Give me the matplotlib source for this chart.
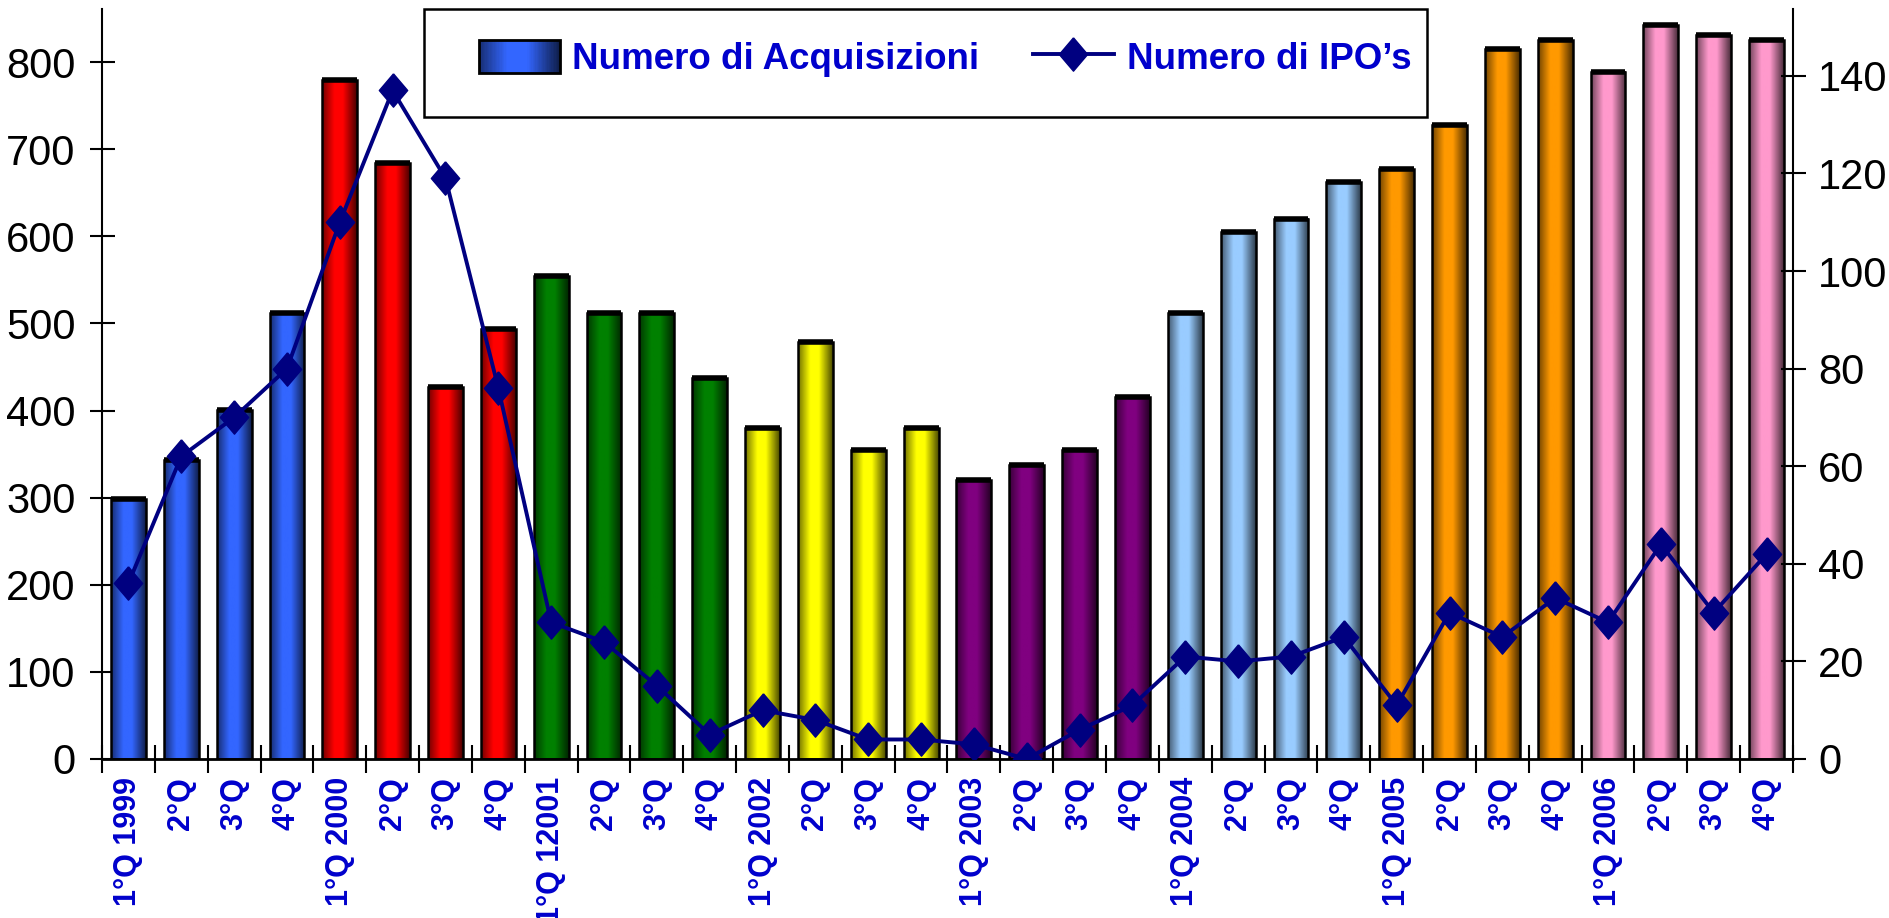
import numpy as np
import matplotlib
matplotlib.use("Agg")
import matplotlib.pyplot as plt
from matplotlib.colors import to_rgb
from matplotlib.lines import Line2D
from matplotlib.patches import Rectangle, Patch
from matplotlib.legend_handler import HandlerBase

# quarters 1999-2006
quarters = ['1°Q 1999', '2°Q', '3°Q', '4°Q',
            '1°Q 2000', '2°Q', '3°Q', '4°Q',
            '1°Q 12001', '2°Q', '3°Q', '4°Q',
            '1°Q 2002', '2°Q', '3°Q', '4°Q',
            '1°Q 2003', '2°Q', '3°Q', '4°Q',
            '1°Q 2004', '2°Q', '3°Q', '4°Q',
            '1°Q 2005', '2°Q', '3°Q', '4°Q',
            '1°Q 2006', '2°Q', '3°Q', '4°Q']
acquisizioni = [298, 343, 401, 512, 780, 684, 427, 494,
                555, 512, 512, 437, 380, 479, 355, 380,
                320, 338, 355, 416, 512, 605, 620, 662,
                677, 728, 815, 825, 789, 843, 831, 825]
ipo = [36, 62, 70, 80, 110, 137, 119, 76,
       28, 24, 15, 5, 10, 8, 4, 4,
       3, 0, 6, 11, 21, 20, 21, 25,
       11, 30, 25, 33, 28, 44, 30, 42]
year_colors = ['#3366FF', '#FF0000', '#008000', '#FFFF00',
               '#800080', '#99CCFF', '#FF9900', '#FF99CC']

blue_txt = '#0000CC'
navy = '#000080'


def shade(color, n=60):
    # dark edges, bright centre, right side darker
    t = np.linspace(0, 1, n)
    f = np.interp(t, [0, 0.35, 0.6, 1.0], [0.45, 1.0, 1.0, 0.3])
    return np.clip(np.array(to_rgb(color))[None, :] * f[:, None], 0, 1)


class GradientHandler(HandlerBase):
    def create_artists(self, legend, orig_handle, xdescent, ydescent,
                       width, height, fontsize, trans):
        cols = shade(orig_handle.get_facecolor())
        n = len(cols)
        arts = []
        for k in range(n):
            arts.append(Rectangle((-xdescent + width * k / n, -ydescent), width / n * 1.1, height,
                                  facecolor=cols[k], edgecolor='none', transform=trans))
        arts.append(Rectangle((-xdescent, -ydescent), width, height, fill=False,
                              edgecolor='black', lw=2, transform=trans))
        return arts


fig = plt.figure(figsize=(18.9, 9.18), dpi=100)
ax = fig.add_axes([102 / 1890, 1 - 759 / 918, (1793 - 102) / 1890, 750 / 918])

x = np.arange(len(quarters))
w = 0.66
for i, v in enumerate(acquisizioni):
    cols = shade(year_colors[i // 4])
    ax.imshow(cols[None, :, :], extent=(i - w / 2, i + w / 2, 0, v), aspect='auto',
              interpolation='bilinear', zorder=2)
ax.bar(x, acquisizioni, width=w, facecolor='none', edgecolor='black', lw=1.8, zorder=3)
ax.hlines(acquisizioni, x - w / 2, x + w / 2, colors='black', lw=4, zorder=3)

ax.set_xlim(-0.5, len(quarters) - 0.5)
ax.set_ylim(0, 861)
ax.set_yticks(range(0, 801, 100))
ax.set_xticks(np.arange(-0.5, len(quarters), 1))
ax.set_xticklabels([])
ax.set_xticks(x, minor=True)
ax.set_xticklabels(quarters, minor=True, rotation=90, color=blue_txt,
                   fontsize=22, fontweight='bold', family='Liberation Sans')
ax.tick_params(axis='x', which='major', direction='inout', length=20, width=1.5)
ax.tick_params(axis='x', which='minor', length=0, pad=13)
ax.tick_params(axis='y', direction='inout', length=18, width=1.5, pad=10, labelsize=30)
for lab in ax.get_yticklabels():
    lab.set_family('Liberation Sans')
for s in ['top', 'right']:
    ax.spines[s].set_visible(False)
ax.spines['left'].set_linewidth(1.5)
ax.spines['bottom'].set_linewidth(2)

ax2 = ax.twinx()
diamond = [(0, 1), (0.85, 0), (0, -1), (-0.85, 0), (0, 1)]
ax2.plot(x, ipo, color=navy, lw=2.8, marker=diamond, ms=24, mfc=navy, mec=navy, zorder=5)
ax2.set_ylim(0, 153.7)
ax2.set_yticks(range(0, 141, 20))
ax2.tick_params(axis='y', direction='inout', length=18, width=1.5, pad=9, labelsize=30)
for lab in ax2.get_yticklabels():
    lab.set_family('Liberation Sans')
for s in ['top', 'left', 'bottom']:
    ax2.spines[s].set_visible(False)
ax2.spines['right'].set_linewidth(1.5)

# legend box
ax2.add_patch(Rectangle((0.1904, 0.856), 0.5932, 0.144, transform=ax2.transAxes,
                        facecolor='white', edgecolor='black', lw=1.8, zorder=6, clip_on=False))
h_bar = Patch(facecolor=year_colors[0])
h_line = Line2D([], [], color=navy, lw=2.8, marker=diamond, ms=24, mfc=navy, mec=navy)
leg = ax2.legend([h_bar, h_line], ['Numero di Acquisizioni', 'Numero di IPO\u2019s'],
                 handler_map={Patch: GradientHandler()}, ncol=2,
                 loc='center left', bbox_to_anchor=(0.2227, 0.934),
                 prop={'family': 'Liberation Sans', 'weight': 'bold', 'size': 26.5},
                 labelcolor=blue_txt, frameon=False, borderpad=0, borderaxespad=0,
                 handlelength=2.2, handleheight=1.0,
                 handletextpad=0.35, columnspacing=1.45)
leg.set_zorder(7)

fig.savefig('out.png', dpi=100, facecolor='white')
